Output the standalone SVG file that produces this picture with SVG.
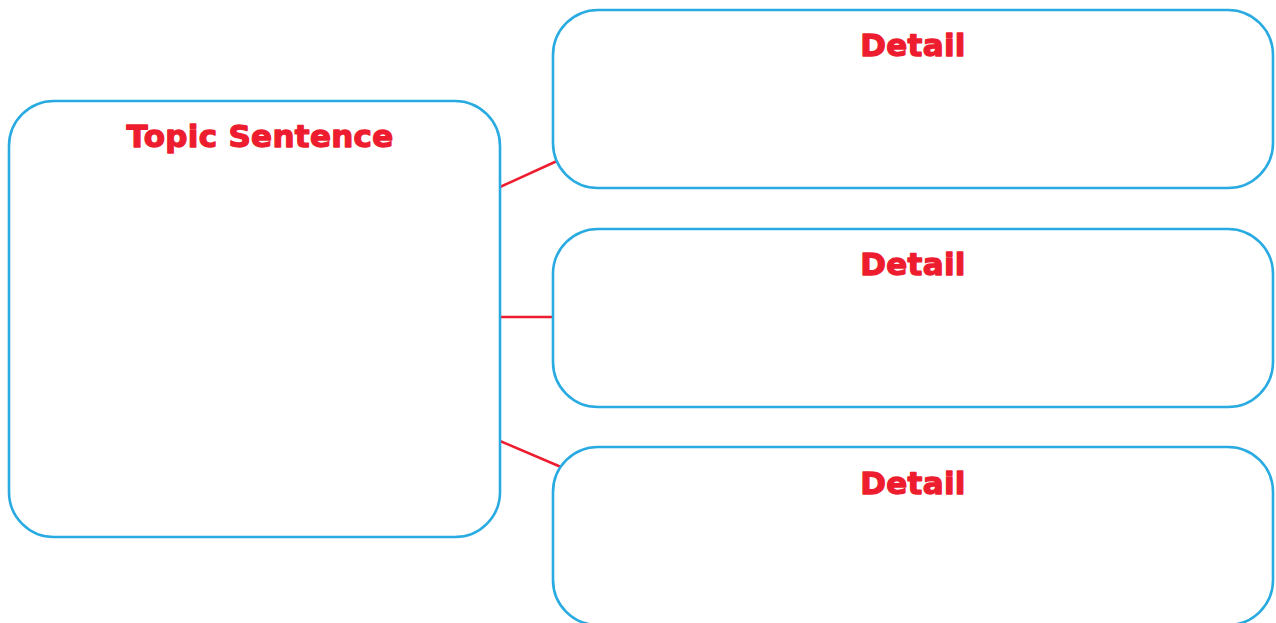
<svg xmlns="http://www.w3.org/2000/svg" width="1276" height="623" viewBox="0 0 1276 623">
<style>
.box{fill:#ffffff;stroke:#29abe2;stroke-width:2.6}
.conn{stroke:#ed1c2e;stroke-width:2.5;fill:none}
.lbl{font-family:"DejaVu Sans","Liberation Sans",sans-serif;font-weight:bold;font-size:31px;fill:#ed1c2e;stroke:#ed1c2e;stroke-width:1.3;stroke-linejoin:round;text-anchor:middle;letter-spacing:0.3px}
</style>
<rect width="1276" height="623" fill="#ffffff"/>
<g id="connectors">
<line class="conn" x1="500" y1="187" x2="557" y2="161"/>
<line class="conn" x1="500" y1="317" x2="554" y2="317"/>
<line class="conn" x1="500" y1="441" x2="561" y2="467"/>
</g>
<g id="topic">
<rect class="box" x="9" y="101" width="491" height="436" rx="45" ry="45"/>
<text class="lbl" x="260" y="147">Topic Sentence</text>
</g>
<g id="detail1">
<rect class="box" x="553" y="10" width="720" height="178" rx="45" ry="45"/>
<text class="lbl" x="913" y="56">Detail</text>
</g>
<g id="detail2">
<rect class="box" x="553" y="229" width="720" height="178" rx="45" ry="45"/>
<text class="lbl" x="913" y="275">Detail</text>
</g>
<g id="detail3">
<rect class="box" x="553" y="447" width="720" height="178" rx="45" ry="45"/>
<text class="lbl" x="913" y="494">Detail</text>
</g>
</svg>
